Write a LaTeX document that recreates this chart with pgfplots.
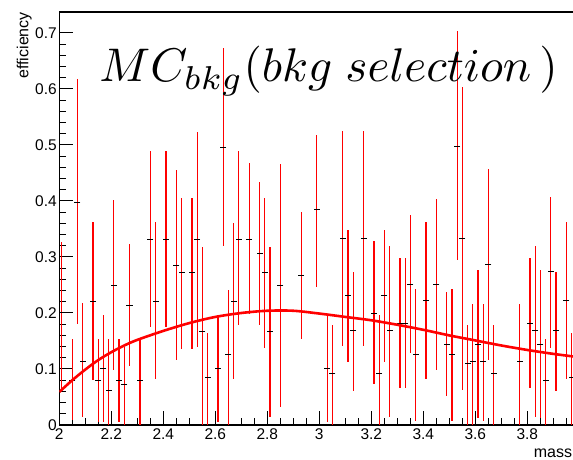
\documentclass[border=0pt]{standalone}
\usepackage{pgfplots}
\pgfplotsset{compat=1.18}
\usepackage{pgfplotstable}
\usepackage{graphicx}
\usepackage{fontspec}
\setmainfont{Liberation Sans}

% bin centre, efficiency, error up, error down
\pgfplotstableread{
x     y     ep    em
2.01  0.200 0.127 0.140
2.05  0.079 0.074 0.070
2.07  0.397 0.220 0.216
2.09  0.113 0.104 0.098
2.13  0.221 0.141 0.141
2.15  0.079 0.074 0.073
2.17  0.100 0.097 0.094
2.19  0.061 0.092 0.061
2.21  0.249 0.153 0.151
2.23  0.079 0.074 0.073
2.25  0.073 0.066 0.073
2.27  0.213 0.110 0.108
2.31  0.079 0.074 0.079
2.35  0.332 0.157 0.157
2.37  0.221 0.141 0.138
2.41  0.332 0.157 0.157
2.45  0.285 0.170 0.169
2.47  0.273 0.132 0.137
2.51  0.273 0.133 0.137
2.53  0.332 0.191 0.192
2.55  0.167 0.151 0.167
2.57  0.084 0.080 0.084
2.61  0.100 0.094 0.094
2.63  0.496 0.177 0.176
2.65  0.126 0.115 0.126
2.67  0.221 0.140 0.138
2.69  0.332 0.157 0.154
2.73  0.332 0.135 0.133
2.77  0.307 0.127 0.129
2.79  0.273 0.132 0.135
2.81  0.167 0.151 0.152
2.85  0.249 0.217 0.216
2.93  0.267 0.113 0.114
2.99  0.384 0.133 0.137
3.03  0.100 0.096 0.094
3.05  0.092 0.087 0.092
3.09  0.333 0.192 0.192
3.11  0.231 0.117 0.118
3.13  0.168 0.106 0.108
3.17  0.333 0.192 0.192
3.21  0.199 0.130 0.126
3.23  0.092 0.104 0.092
3.25  0.231 0.117 0.118
3.27  0.168 0.152 0.154
3.31  0.182 0.116 0.116
3.33  0.182 0.116 0.116
3.35  0.250 0.125 0.122
3.37  0.126 0.116 0.118
3.41  0.222 0.140 0.139
3.45  0.250 0.154 0.152
3.49  0.144 0.094 0.093
3.51  0.126 0.116 0.118
3.53  0.498 0.206 0.203
3.55  0.333 0.271 0.271
3.57  0.109 0.070 0.109
3.59  0.113 0.103 0.113
3.61  0.144 0.132 0.132
3.63  0.113 0.103 0.105
3.65  0.286 0.171 0.170
3.67  0.092 0.087 0.092
3.77  0.113 0.103 0.113
3.81  0.182 0.116 0.116
3.83  0.168 0.152 0.154
3.85  0.144 0.132 0.132
3.87  0.079 0.074 0.079
3.89  0.274 0.133 0.136
3.91  0.168 0.106 0.108
3.95  0.222 0.140 0.139
3.97  0.084 0.081 0.084
}\effdata

\begin{document}
\begin{tikzpicture}
\begin{axis}[
    at={(0pt,0pt)}, anchor=south west,
    scale only axis,
    width=520pt, height=413pt,
    xmin=2, xmax=4,
    ymin=0, ymax=0.7375,
    xtick={2,2.2,2.4,2.6,2.8,3,3.2,3.4,3.6,3.8,4},
    xticklabels={2,2.2,2.4,2.6,2.8,3,3.2,3.4,3.6,3.8,},
    ytick={0,0.1,0.2,0.3,0.4,0.5,0.6,0.7},
    minor x tick num=3,
    minor y tick num=4,
    xtick pos=bottom, ytick pos=left,
    tick align=inside,
    major tick length=14pt,
    minor tick length=7pt,
    axis line style={line width=1.2pt},
    every tick/.style={black, line width=1pt},
    /pgf/number format/assume math mode=true,
    tick label style={font=\fontsize{15.5}{18}\selectfont},
    yticklabel style={xshift=1pt},
    clip mode=individual,
]
\addplot[
    draw=none,
    mark=-, mark size=3pt,
    mark options={black, line width=1pt},
    error bars/.cd,
        y dir=both, y explicit,
        error mark=none,
        error bar style={red, line width=1.2pt},
    ] table[x=x, y=y, y error plus=ep, y error minus=em] {\effdata};

\addplot[red, line width=2.6pt, smooth, no marks] coordinates {
    (2.00,0.059) (2.05,0.080) (2.10,0.099) (2.15,0.116) (2.20,0.130)
    (2.25,0.142) (2.30,0.152) (2.40,0.168) (2.50,0.182) (2.60,0.193)
    (2.70,0.200) (2.80,0.204) (2.90,0.204) (3.00,0.199) (3.10,0.193)
    (3.20,0.187) (3.30,0.179) (3.40,0.170) (3.50,0.160) (3.60,0.151)
    (3.70,0.142) (3.80,0.134) (3.90,0.127) (4.00,0.121)
};
\end{axis}

\node[anchor=base west, inner sep=0pt] at (40pt,343pt)
    {\scalebox{4.72}{$MC_{bkg}(bkg\ selection\,)$}};
\node[rotate=90, anchor=base east, inner sep=0pt,
      font=\fontsize{16}{18}\selectfont] at (-31pt,413pt) {efficiency};
\node[anchor=base east, inner sep=0pt,
      font=\fontsize{16}{18}\selectfont] at (513pt,-32.5pt) {mass};

\pgfresetboundingbox
\path[use as bounding box] (-59.3pt,-34.5pt) rectangle (513.7pt,425pt);
\end{tikzpicture}
\end{document}
